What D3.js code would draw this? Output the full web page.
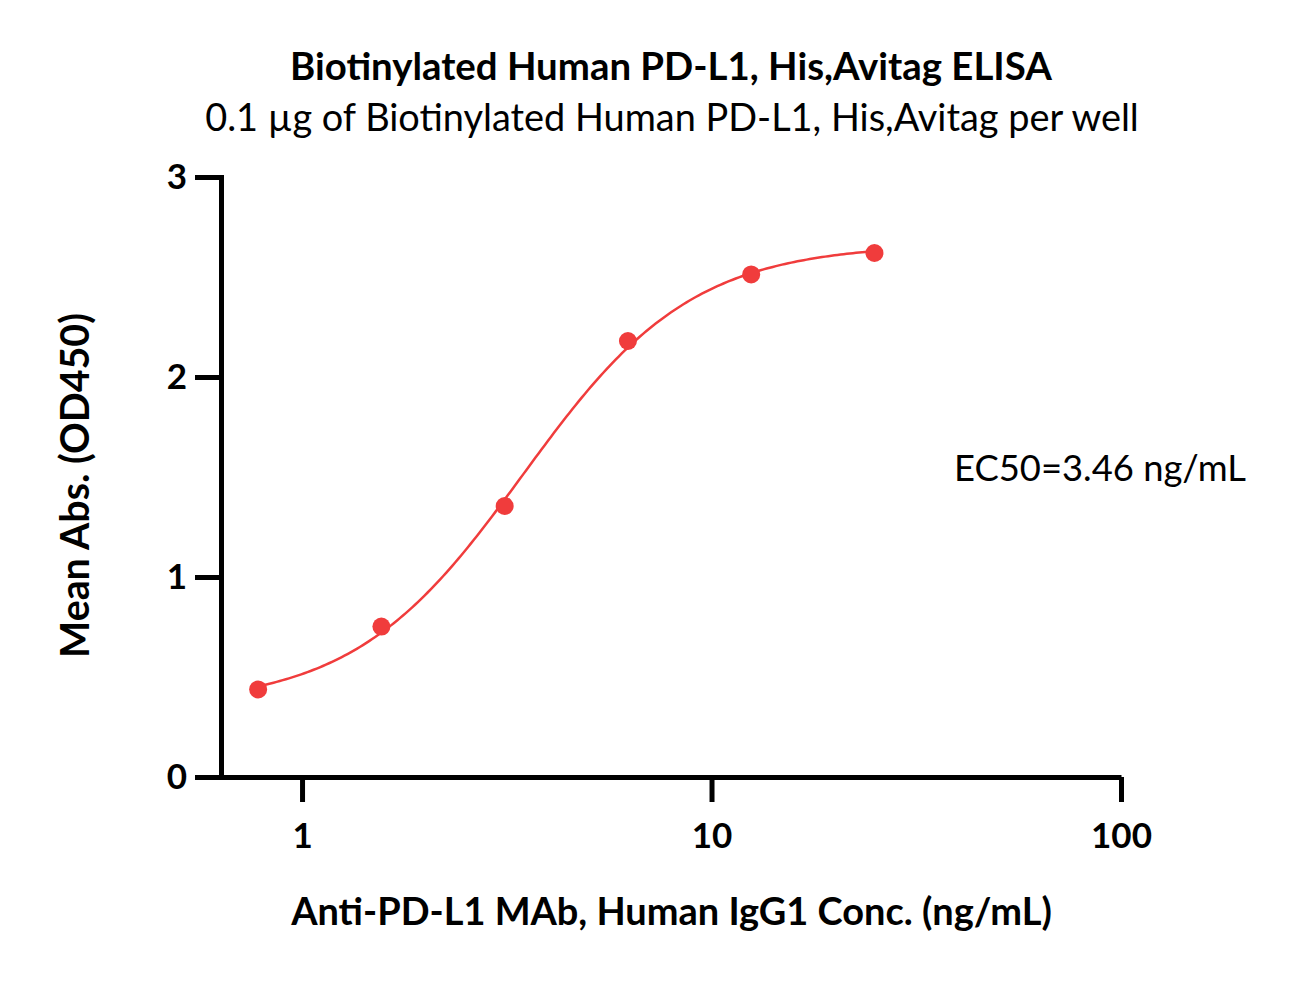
<!DOCTYPE html>
<html>
<head>
<meta charset="utf-8">
<script src="https://cdn.jsdelivr.net/npm/d3@7"></script>
<style>
  html, body { margin: 0; padding: 0; background: #fff; }
  svg { display: block; }
  text { font-family: Lato, "Open Sans", sans-serif; fill: #000; }
</style>
</head>
<body>
<svg id="chart" width="1292" height="981"></svg>
<script>
// ---- data ----
const concentrations = [0.78125, 1.5625, 3.125, 6.25, 12.5, 25];   // ng/mL
const meanAbs = [0.438, 0.752, 1.355, 2.18, 2.513, 2.62];            // OD450
const xTickValues = [1, 10, 100];
const xTickLabels = ["1", "10", "100"];
const yTickValues = [0, 1, 2, 3];
const yTickLabels = ["0", "1", "2", "3"];
// 4PL fit parameters (bottom, top, EC50, hill)
const fitBottom = 0.356, fitTop = 2.665, fitEC50 = 3.46, fitHill = 2.1;

const titleText = "Biotinylated Human PD-L1, His,Avitag ELISA";
const subtitleText = "0.1 \u00b5g of Biotinylated Human PD-L1, His,Avitag per well";
const xTitle = "Anti-PD-L1 MAb, Human IgG1 Conc. (ng/mL)";
const yTitle = "Mean Abs. (OD450)";
const ec50Label = "EC50=3.46 ng/mL";

// ---- layout ----
const svg = d3.select("#chart");
const red = "#f03c3c";
const x = d3.scaleLog().domain([0.634, 100]).range([221, 1121]);
const y = d3.scaleLinear().domain([0, 3]).range([777, 177]);

function fitText(sel, target) {
  const len = sel.node().getComputedTextLength();
  const fs = parseFloat(sel.attr("font-size"));
  sel.attr("font-size", fs * target / len);
}

// titles
const t1 = svg.append("text").attr("x", 671).attr("y", 80)
  .attr("text-anchor", "middle").attr("font-weight", "bold").attr("font-size", 30)
  .text(titleText);
fitText(t1, 762);
const t2 = svg.append("text").attr("x", 672).attr("y", 131)
  .attr("text-anchor", "middle").attr("font-size", 30)
  .text(subtitleText);
fitText(t2, 934);

// axes
const xAxis = d3.axisBottom(x).tickValues(xTickValues)
  .tickFormat((d, i) => xTickLabels[i]).tickSize(25).tickSizeOuter(0).tickPadding(21);
const gx = svg.append("g").attr("transform", "translate(0,777)").call(xAxis);
gx.select(".domain").attr("stroke-width", 5).attr("stroke", "#000");
gx.selectAll(".tick line").attr("stroke-width", 5).attr("stroke", "#000");
gx.selectAll(".tick text").attr("font-size", 35).attr("font-weight", "bold")
  .attr("font-family", "Lato, sans-serif").attr("fill", "#000");

const yAxis = d3.axisLeft(y).tickValues(yTickValues)
  .tickFormat((d, i) => yTickLabels[i]).tickSize(26).tickSizeOuter(0).tickPadding(8);
const gy = svg.append("g").attr("transform", "translate(221,0)").call(yAxis);
gy.select(".domain").attr("stroke-width", 5).attr("stroke", "#000").attr("stroke-linecap", "square");
gy.selectAll(".tick line").attr("stroke-width", 5).attr("stroke", "#000");
gy.selectAll(".tick text").attr("font-size", 35).attr("font-weight", "bold")
  .attr("font-family", "Lato, sans-serif").attr("fill", "#000");

// axis titles
const xt = svg.append("text").attr("x", 671.5).attr("y", 925)
  .attr("text-anchor", "middle").attr("font-weight", "bold").attr("font-size", 30)
  .text(xTitle);
fitText(xt, 761);
const yt = svg.append("text")
  .attr("transform", "translate(89,485.5) rotate(-90)")
  .attr("text-anchor", "middle").attr("font-weight", "bold").attr("font-size", 30)
  .text(yTitle);
fitText(yt, 345);

// fitted curve
const logMin = Math.log10(d3.min(concentrations));
const logMax = Math.log10(d3.max(concentrations));
const curveData = d3.range(0, 201).map(i => {
  const c = Math.pow(10, logMin + (logMax - logMin) * i / 200);
  return [c, fitBottom + (fitTop - fitBottom) / (1 + Math.pow(fitEC50 / c, fitHill))];
});
svg.append("path").datum(curveData)
  .attr("fill", "none").attr("stroke", red).attr("stroke-width", 2.5)
  .attr("d", d3.line().x(d => x(d[0])).y(d => y(d[1])));

// points
svg.append("g").selectAll("circle").data(concentrations).join("circle")
  .attr("cx", d => x(d)).attr("cy", (d, i) => y(meanAbs[i]))
  .attr("r", 9).attr("fill", red);

// EC50 label
const ec = svg.append("text").attr("x", 954).attr("y", 481)
  .attr("font-size", 30).text(ec50Label);
fitText(ec, 292);
</script>
</body>
</html>
